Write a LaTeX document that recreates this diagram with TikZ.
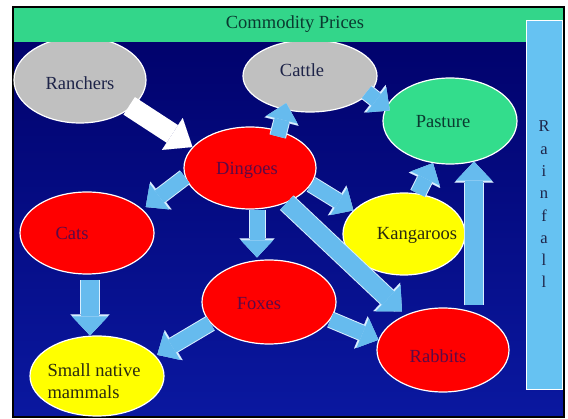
\documentclass[tikz,border=0pt]{standalone}
\usepackage{fontspec}
\setmainfont{Liberation Serif}
\usetikzlibrary{arrows.meta,shapes.geometric,calc}
\definecolor{navytop}{HTML}{000068}
\definecolor{navymid}{HTML}{00007C}
\definecolor{navybot}{HTML}{0A18A0}
\definecolor{bannergreen}{HTML}{33D68A}
\definecolor{rainbox}{HTML}{66C2F2}
\definecolor{arrowblue}{HTML}{66BBEE}
\definecolor{arrowedge}{HTML}{D8EEFF}
\definecolor{ellgray}{HTML}{C0C0C0}
\definecolor{ellred}{HTML}{FF0000}
\definecolor{ellyellow}{HTML}{FFFF00}
\definecolor{ellgreen}{HTML}{33DD8C}
\definecolor{txtnavy}{HTML}{1E2448}
\definecolor{txtred}{HTML}{5C0A46}
\definecolor{txtolive}{HTML}{2A2A10}
\definecolor{txtgreen}{HTML}{0A3A30}
\begin{document}
\begin{tikzpicture}[x=1pt,y=-1pt,
  ell/.style={ellipse, draw=white, line width=1.2pt, inner sep=0pt},
  lbl/.style={font=\fontsize{18.5}{22}\selectfont, inner sep=0pt, text height=13pt, text depth=4pt},
  barrow/.style={line width=15pt, draw=arrowblue,
    -{Triangle[length=17pt,width=32pt,line width=0.01pt]},
    preaction={draw=arrowedge, line width=17pt, -{Triangle[length=19pt,width=35pt,line width=0.01pt]}}},
  barrowL/.style={line width=18pt, draw=arrowblue,
    -{Triangle[length=19pt,width=36pt,line width=0.01pt]},
    preaction={draw=arrowedge, line width=20pt, -{Triangle[length=21pt,width=39pt,line width=0.01pt]}}},
  warrow/.style={line width=21pt, draw=white, -{Triangle[length=24pt,width=38pt,line width=0.01pt]}}
]
\useasboundingbox (0,0) rectangle (568,419);
\fill[white] (0,0) rectangle (568,419);
% background
\shade[top color=navytop, middle color=navymid, bottom color=navybot] (13,7) rectangle (564,417);
\draw[line width=2.2pt, black] (13,7) rectangle (564,417);

% ellipses
\node[ell, fill=ellgray, minimum width=132, minimum height=86] (ranchers) at (80,80) {};
\node[ell, fill=ellgray, minimum width=134, minimum height=72] (cattle) at (310,76) {};
\node[ell, fill=ellgreen, minimum width=134, minimum height=86] (pasture) at (450,121) {};
\node[ell, fill=ellred, minimum width=132, minimum height=82] (dingoes) at (250,168) {};
\node[ell, fill=ellred, minimum width=134, minimum height=82] (cats) at (87,233) {};
\node[ell, fill=ellyellow, minimum width=122, minimum height=82] (kangaroos) at (404,234) {};
\node[ell, fill=ellred, minimum width=134, minimum height=84] (foxes) at (269,302) {};
\node[ell, fill=ellred, minimum width=132, minimum height=84] (rabbits) at (443,350) {};
\node[ell, fill=ellyellow, minimum width=134, minimum height=80] (snm) at (97,376) {};

% arrows
\draw[warrow, shorten <=-3pt] (ranchers.-28) -- (dingoes.160);
\draw[barrow, shorten <=-6pt, shorten >=-7pt] (dingoes.52) -- (cattle.-127);
\draw[barrow, shorten <=-3pt, shorten >=-5pt] (cattle.-17) -- (pasture.168);
\draw[barrow, shorten >=4pt] (dingoes.-172) -- (cats.23);
\draw[barrow, shorten >=2pt] ([xshift=7pt]dingoes.south) -- ([xshift=-12pt]foxes.north);
\draw[barrowL, shorten >=5pt] (dingoes) -- (rabbits);
\draw[barrow] (dingoes.-15) -- (kangaroos.155);
\draw[barrow] (kangaroos.71) -- (pasture.-112);
\draw[barrowL, shorten <=2pt, shorten >=-3pt] ([xshift=31pt]rabbits.north) -- ([xshift=24pt]pasture.south);
\draw[barrowL, shorten <=5pt] ([xshift=3pt]cats.south) -- ([xshift=-7pt]snm.north);
\draw[barrow, shorten >=2pt] (foxes.-160) -- (snm.19);
\draw[barrow] (foxes.-16) -- (rabbits.171);

% banner and rainfall
\node[fill=bannergreen, minimum width=549, minimum height=34, inner sep=0pt] (banner) at (288.5,25) {};
\node[lbl, text=txtgreen] (prices) at (295,24) {Commodity Prices};
\node[draw=white, fill=rainbox, line width=0.8pt, minimum width=36, minimum height=369, inner sep=0pt,
      font=\fontsize{16.5}{22.3}\selectfont, align=center, text=txtnavy] (rainfall) at (544,204.5) {R\\a\\i\\n\\f\\a\\l\\l};

% labels
\node[lbl, text=txtnavy] (ranchers-t) at (80,85) {Ranchers};
\node[lbl, text=txtnavy] (cattle-t) at (302,72) {Cattle};
\node[lbl, text=txtgreen] (pasture-t) at (443,123) {Pasture};
\node[lbl, text=txtred] (dingoes-t) at (247,170) {Dingoes};
\node[lbl, text=txtred] (cats-t) at (72,235) {Cats};
\node[lbl, text=txtolive] (kangaroos-t) at (417,235) {Kangaroos};
\node[lbl, text=txtred] (foxes-t) at (259,305) {Foxes};
\node[lbl, text=txtred] (rabbits-t) at (438,358) {Rabbits};
\node[font=\fontsize{18.5}{22}\selectfont, inner sep=0pt, align=left, text=txtolive] (snm-t) at (94,381) {Small native\\mammals};
\end{tikzpicture}
\end{document}
